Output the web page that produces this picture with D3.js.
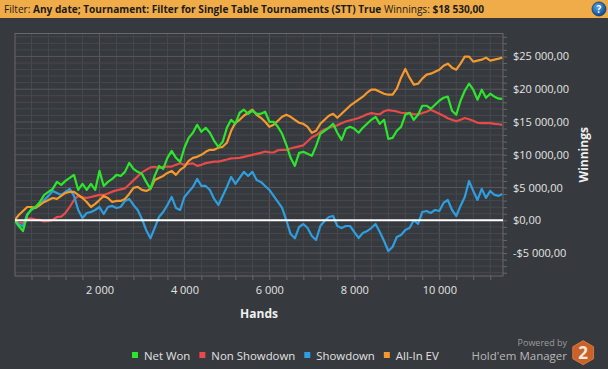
<!DOCTYPE html>
<html>
<head>
<meta charset="utf-8">
<script src="https://cdn.jsdelivr.net/npm/d3@7"></script>
<style>
  html, body { margin: 0; padding: 0; background: #36393d; }
  svg { display: block; font-family: "Open Sans", sans-serif; }
</style>
</head>
<body>
<svg id="chart" width="608" height="369"></svg>
<script>
//hands played at each sample point
var hands = [0, 100, 200, 300, 400, 500, 600, 700, 800, 900,
    1000, 1100, 1200, 1300, 1400, 1500, 1600, 1700, 1800, 1900,
    2000, 2100, 2200, 2300, 2400, 2500, 2600, 2700, 2800, 2900,
    3000, 3100, 3200, 3300, 3400, 3500, 3600, 3700, 3800, 3900,
    4000, 4100, 4200, 4300, 4400, 4500, 4600, 4700, 4800, 4900,
    5000, 5100, 5200, 5300, 5400, 5500, 5600, 5700, 5800, 5900,
    6000, 6100, 6200, 6300, 6400, 6500, 6600, 6700, 6800, 6900,
    7000, 7100, 7200, 7300, 7400, 7500, 7600, 7700, 7800, 7900,
    8000, 8100, 8200, 8300, 8400, 8500, 8600, 8700, 8800, 8900,
    9000, 9100, 9200, 9300, 9400, 9500, 9600, 9700, 9800, 9900,
    10000, 10100, 10200, 10300, 10400, 10500, 10600, 10700, 10800, 10900,
    11000, 11100, 11200, 11300, 11400, 11480];

//winnings for each line
var netWon = [0, -870, -1640, 800, 1730, 2080, 2800, 3870, 4330, 4790,
    5860, 5400, 6010, 6470, 6930, 4630, 5550, 4630, 5550, 4630,
    7540, 5240, 5860, 6310, 6930, 6770, 7390, 8760, 7840, 7390,
    7080, 5860, 4790, 6770, 8300, 7840, 9530, 10600, 9530, 8910,
    11060, 12580, 13350, 14570, 13500, 14110, 13350, 12120, 11210, 11970,
    14110, 15330, 14720, 16410, 16870, 16250, 16710, 16250, 16250, 16560,
    15030, 15030, 14260, 13200, 11510, 9530, 8300, 10290, 10440, 10140,
    9830, 11360, 13200, 13660, 14110, 14720, 13350, 12280, 13960, 14260,
    13960, 13350, 14110, 14720, 15330, 15790, 14720, 15330, 12430, 12580,
    13660, 14260, 16100, 16410, 15330, 16100, 17480, 17480, 17020, 17630,
    18240, 18700, 18860, 16710, 16100, 18240, 19770, 20840, 19920, 18400,
    19920, 18700, 19310, 18860, 18550, 18530];

var nonShowdown = [-200, -340, -410, 200, 280, 120, 50, -180, -100, 50,
    500, 550, 1120, 2030, 3100, 3720, 3490, 3410, 3560, 3720,
    3870, 3870, 4100, 4370, 4560, 4710, 4860, 5470, 6090, 6700,
    7310, 7690, 8070, 8150, 7950, 8150, 8200, 8200, 8460, 8690,
    8460, 8610, 8690, 8300, 8460, 8720, 8840, 8960, 8960, 9110,
    9270, 9450, 9480, 9530, 9680, 9830, 9990, 10140, 10290, 10490,
    10370, 10340, 10690, 10750, 10750, 10950, 11130, 11280, 11440, 12050,
    12660, 12970, 13500, 13850, 14110, 14340, 14490, 14800, 15080, 15260,
    15410, 15600, 15870, 16180, 16360, 16250, 16180, 16640, 16820, 16710,
    16610, 16410, 16360, 16360, 16180, 16180, 16360, 16560, 16870, 16560,
    16250, 15950, 15570, 15340, 15110, 15340, 15600, 15410, 15180, 14880,
    14830, 14830, 14830, 14720, 14650, 14570];

var showdown = [0, -610, -920, 960, 1570, 2030, 2340, 3100, 3720, 4480,
    4170, 3870, 4330, 4790, 3720, 1570, 350, 1120, 1270, 1570,
    2030, 960, 2030, 2190, 1880, 2030, 2950, 3260, 2340, 1570,
    200, -1480, -2750, -1180, 500, 1270, 2340, 3560, 1880, 1570,
    3560, 4330, 5090, 6310, 5240, 5240, 4630, 3260, 2340, 3720,
    5090, 6620, 5550, 6470, 7390, 6770, 7390, 6160, 5860, 5240,
    4630, 3720, 2800, 1880, 0, -2100, -2750, -1020, -570, -1180,
    -2400, -3010, -870, -100, 500, 660, -870, -1180, -870, -870,
    -1790, -2700, -1940, -1640, -1180, -570, -1790, -3160, -4690, -4080,
    -2550, -2250, -1480, -1180, 0, -570, 1270, 1420, 1120, 1570,
    1420, 2650, 3100, 1570, 660, 2190, 3560, 6000, 4480, 3100,
    4790, 3410, 4480, 3870, 3720, 4020];

var allInEV = [0, 810, 1420, 2030, 2030, 1880, 2340, 2800, 3100, 3400,
    3260, 3720, 4170, 4330, 4330, 3870, 3400, 2800, 2030, 2500,
    3100, 3720, 3400, 2800, 2950, 2950, 3260, 4020, 4940, 5090,
    4630, 4480, 4790, 6160, 6470, 6770, 7230, 7540, 6930, 7690,
    8150, 9070, 9530, 9680, 9990, 10440, 10750, 10750, 11060, 11210,
    11820, 13660, 14880, 15330, 15950, 16410, 16870, 16100, 15640, 15030,
    14260, 14570, 15180, 15790, 16100, 15790, 15330, 14880, 14720, 14260,
    13350, 13660, 14720, 15330, 15950, 16250, 15640, 16250, 16870, 17480,
    17940, 18400, 18860, 19470, 19930, 19930, 19620, 19310, 19160, 19160,
    20080, 21760, 23100, 21760, 20690, 20840, 21610, 22220, 22370, 22680,
    22980, 23590, 23900, 23290, 22980, 23900, 24970, 24970, 24210, 24360,
    24510, 24820, 24360, 24510, 24670, 24820];

var seriesNames = ["Net Won", "Non Showdown", "Showdown", "All-In EV"];
var seriesColors = ["#2ee52e", "#e84a4a", "#2f9ee0", "#f5992f"];
var xLabelTicks = [2000, 4000, 6000, 8000, 10000];
var yLabelTicks = [-5000, 0, 5000, 10000, 15000, 20000, 25000];

var svg = d3.select("#chart");

//plot box
var plotLeft = 15, plotRight = 503, plotTop = 33.5, plotBottom = 276;

var x = d3.scaleLinear().domain([0, 11500]).range([14.5, plotRight]);
var y = d3.scaleLinear().domain([-8500, 28500]).range([plotBottom, plotTop]);

var locale = d3.formatLocale({decimal: ",", thousands: " ", grouping: [3], currency: ["$", ""], minus: "-"});
var money = locale.format("$,.2f");
var count = locale.format(",d");

//header bar
svg.append("rect").attr("x", 0).attr("y", 0).attr("width", 608).attr("height", 18).attr("fill", "#f0ac49");
var header = svg.append("text").attr("x", 4).attr("y", 12.5).attr("font-size", "10.1px").attr("fill", "#1b1b1b");
header.append("tspan").text("Filter: ");
header.append("tspan").attr("font-weight", "bold").text("Any date; Tournament: Filter for Single Table Tournaments (STT) True");
header.append("tspan").text(" Winnings: ");
header.append("tspan").attr("font-weight", "bold").text("$18 530,00");

var grad = svg.append("defs").append("radialGradient").attr("id", "helpGrad").attr("cx", "40%").attr("cy", "35%").attr("r", "65%");
grad.append("stop").attr("offset", "0%").attr("stop-color", "#5aa6e6");
grad.append("stop").attr("offset", "100%").attr("stop-color", "#0d4a8f");
svg.append("circle").attr("cx", 599).attr("cy", 9).attr("r", 7).attr("fill", "url(#helpGrad)").attr("stroke", "#0b3c73").attr("stroke-width", 0.8);
svg.append("text").attr("x", 599).attr("y", 12.5).attr("text-anchor", "middle").attr("font-size", "10px")
    .attr("font-weight", "bold").attr("fill", "#ffffff").text("?");

//grid lines
var grid = svg.append("g");
grid.selectAll(".vgrid")
    .data(d3.range(400, 11500, 400))
    .enter()
    .append("line")
    .attr("x1", function (d) { return x(d); })
    .attr("x2", function (d) { return x(d); })
    .attr("y1", plotTop).attr("y2", plotBottom)
    .attr("stroke", function (d) { return d % 2000 == 0 ? "#55585c" : "#46494d"; })
    .attr("stroke-width", 1);

grid.selectAll(".hgrid")
    .data(d3.range(-8000, 28001, 1000))
    .enter()
    .append("line")
    .attr("x1", plotLeft).attr("x2", plotRight)
    .attr("y1", function (d) { return y(d); })
    .attr("y2", function (d) { return y(d); })
    .attr("stroke", function (d) { return d % 5000 == 0 ? "#55585c" : "#46494d"; })
    .attr("stroke-width", 1);

svg.append("rect")
    .attr("x", plotLeft).attr("y", plotTop)
    .attr("width", plotRight - plotLeft).attr("height", plotBottom - plotTop)
    .attr("fill", "none").attr("stroke", "#66696c").attr("stroke-width", 1);

//axes
var xAxis = d3.axisBottom(x)
    .tickValues(d3.range(400, 11500, 400))
    .tickSize(4)
    .tickPadding(6)
    .tickFormat(function (d) { return xLabelTicks.indexOf(d) >= 0 ? count(d) : ""; });

var yAxis = d3.axisRight(y)
    .tickValues(d3.range(-8000, 28001, 1000))
    .tickSize(4)
    .tickPadding(6)
    .tickFormat(function (d) { return yLabelTicks.indexOf(d) >= 0 ? money(d) : ""; });

var gx = svg.append("g").attr("transform", "translate(0," + plotBottom + ")").call(xAxis);
var gy = svg.append("g").attr("transform", "translate(" + plotRight + ",0)").call(yAxis);
[gx, gy].forEach(function (g) {
    g.select(".domain").remove();
    g.selectAll(".tick line").attr("stroke", "#66696c");
    g.selectAll(".tick text").attr("fill", "#e4e4e4").attr("font-size", "11px").attr("font-family", "Open Sans, sans-serif");
});

svg.append("text").attr("x", (plotLeft + plotRight) / 2).attr("y", 317.5)
    .attr("text-anchor", "middle").attr("font-size", "12px").attr("font-weight", "bold")
    .attr("fill", "#f0f0f0").text("Hands");

svg.append("text").attr("transform", "translate(588," + ((plotTop + plotBottom) / 2) + ") rotate(-90)")
    .attr("text-anchor", "middle").attr("font-size", "12px").attr("font-weight", "bold")
    .attr("fill", "#f0f0f0").text("Winnings");

//lines
svg.append("clipPath").attr("id", "plotClip").append("rect")
    .attr("x", plotLeft).attr("y", plotTop).attr("width", plotRight - plotLeft).attr("height", plotBottom - plotTop);

var lineGen = d3.line()
    .x(function (d, i) { return x(hands[i]); })
    .y(function (d) { return y(d); });

var allSeries = [netWon, nonShowdown, showdown, allInEV];
var drawOrder = [1, 2, 3, 0];
var lines = svg.append("g").attr("clip-path", "url(#plotClip)");
drawOrder.forEach(function (k) {
    lines.append("path")
        .attr("d", lineGen(allSeries[k]))
        .attr("fill", "none")
        .attr("stroke", seriesColors[k])
        .attr("stroke-width", 2.2)
        .attr("stroke-linejoin", "round");
});

//zero line
lines.append("line")
    .attr("x1", plotLeft).attr("x2", plotRight)
    .attr("y1", y(0)).attr("y2", y(0))
    .attr("stroke", "#ffffff").attr("stroke-width", 2);

//legend
var legend = svg.append("g");
var lx = 132;
seriesNames.forEach(function (name, i) {
    legend.append("rect").attr("x", lx).attr("y", 352).attr("width", 6).attr("height", 6).attr("fill", seriesColors[i]);
    var t = legend.append("text").attr("x", lx + 12).attr("y", 359.5)
        .attr("font-size", "11.4px").attr("fill", "#e2e2e2").text(name);
    lx = lx + 12 + t.node().getComputedTextLength() + 9;
});

//logo
svg.append("text").attr("x", 567).attr("y", 346).attr("text-anchor", "end")
    .attr("font-size", "9px").attr("fill", "#9c9c9c").text("Powered by");
svg.append("text").attr("x", 567).attr("y", 360).attr("text-anchor", "end")
    .attr("font-size", "11.5px").attr("fill", "#b8b8b8").text("Hold'em Manager");

var hexPts = d3.range(6).map(function (k) {
    var a = Math.PI / 180 * (60 * k - 90);
    return [583.2 + 12 * Math.cos(a), 352.7 + 12 * Math.sin(a)];
});
svg.append("polygon").attr("points", hexPts.map(function (p) { return p.join(","); }).join(" "))
    .attr("fill", "#c9622a").attr("stroke", "#d9783e").attr("stroke-width", 1);
svg.append("text").attr("x", 583.2).attr("y", 358.5).attr("text-anchor", "middle")
    .attr("font-size", "17px").attr("font-weight", "bold").attr("fill", "#f4e8dc").text("2");
</script>
</body>
</html>
